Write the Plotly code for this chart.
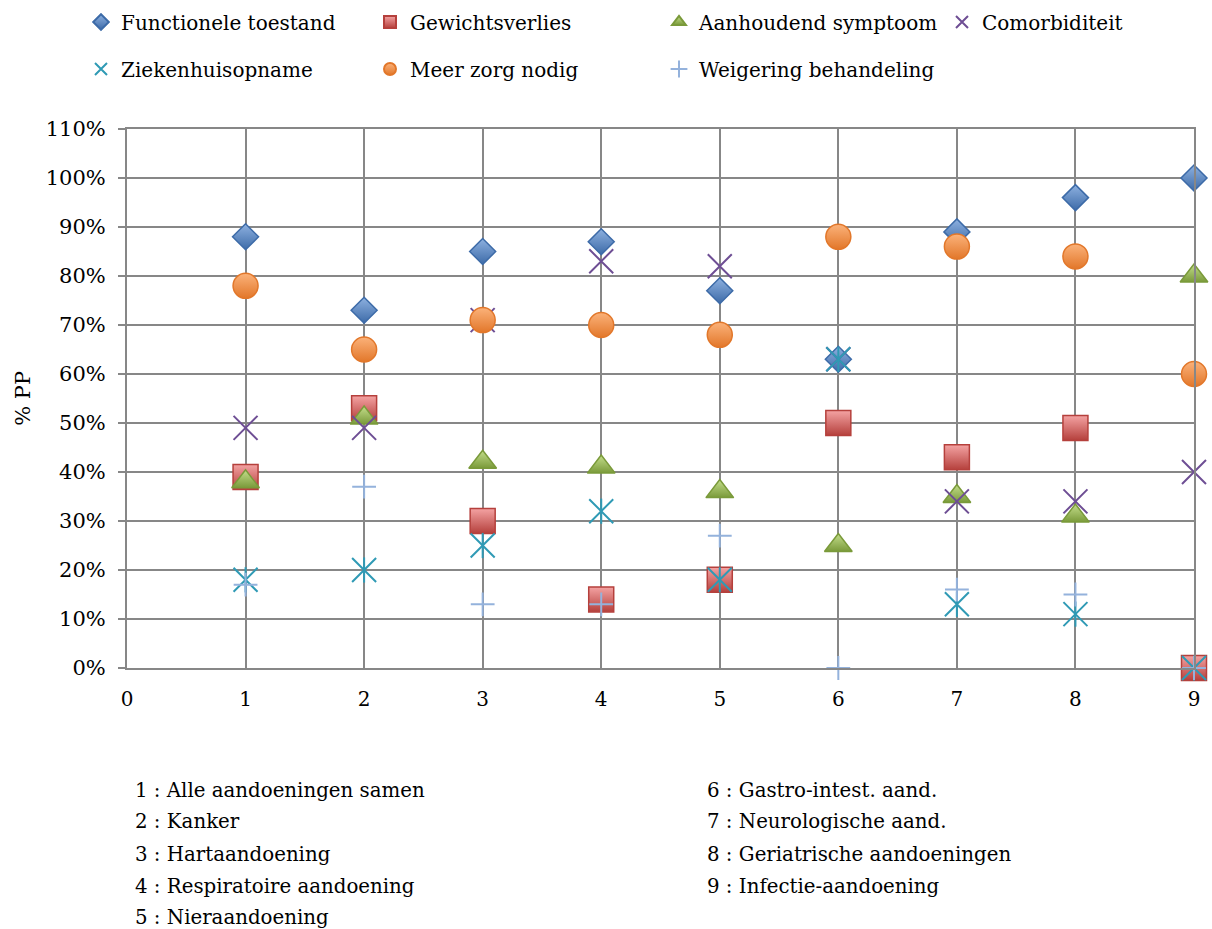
import plotly.graph_objects as go

# Category index on the x axis and the condition each number stands for
categories = [1, 2, 3, 4, 5, 6, 7, 8, 9]
category_names = [
    "Alle aandoeningen samen",
    "Kanker",
    "Hartaandoening",
    "Respiratoire aandoening",
    "Nieraandoening",
    "Gastro-intest. aand.",
    "Neurologische aand.",
    "Geriatrische aandoeningen",
    "Infectie-aandoening",
]

# Percentage of patients (% PP) per indicator
functionele_toestand = [88, 73, 85, 87, 77, 63, 89, 96, 100]
gewichtsverlies = [39, 53, 30, 14, 18, 50, 43, 49, 0]
aanhoudend_symptoom = [38, 51, 42, 41, 36, 25, 35, 31, 80]
comorbiditeit = [49, 49, 71, 83, 82, 63, 34, 34, 40]
ziekenhuisopname = [18, 20, 25, 32, 18, 63, 13, 11, 0]
meer_zorg_nodig = [78, 65, 71, 70, 68, 88, 86, 84, 60]
weigering_behandeling = [17, 37, 13, 13, 27, 0, 16, 15, 0]

y_ticks = list(range(0, 111, 10))
x_ticks = list(range(0, 10))

FONT = "DejaVu Serif"
GRID = "#878787"
W, H = 1212, 929

fig = go.Figure()


def filled(name, values, symbol, size, light, dark, legend):
    fig.add_trace(go.Scatter(
        x=categories, y=values, name=name, mode="markers", legend=legend,
        cliponaxis=False,
        marker=dict(symbol=symbol, size=size, color=light,
                    gradient=dict(type="vertical", color=dark),
                    line=dict(color=dark, width=1.5)),
    ))


def stroked(name, values, symbol, size, color, legend, showlegend=True, group=None):
    fig.add_trace(go.Scatter(
        x=categories, y=values, name=name, mode="markers", legend=legend,
        cliponaxis=False, showlegend=showlegend, legendgroup=group,
        marker=dict(symbol=symbol, size=size, color=color,
                    line=dict(color=color, width=2)),
    ))


filled("Functionele toestand", functionele_toestand, "diamond", 20,
       "#8eb1e0", "#3d6ba8", "legend")
filled("Gewichtsverlies", gewichtsverlies, "square", 25,
       "#f4a3a3", "#b5403c", "legend")
filled("Aanhoudend symptoom", aanhoudend_symptoom, "triangle-up", 24,
       "#c4de8c", "#7a9a3a", "legend")
stroked("Comorbiditeit", comorbiditeit, "x-thin-open", 24, "#6e4e94", "legend3")
stroked("Ziekenhuisopname", ziekenhuisopname, "x-thin-open", 24, "#2f9ab5",
        "legend2", group="zh")
stroked("Ziekenhuisopname", ziekenhuisopname, "line-ns-open", 18, "#2f9ab5",
        "legend2", showlegend=False, group="zh")
filled("Meer zorg nodig", meer_zorg_nodig, "circle", 25,
       "#fbb27a", "#e2772a", "legend2")
stroked("Weigering behandeling", weigering_behandeling, "cross-thin-open", 17,
        "#94b2dc", "legend2")

# Numbered key of the conditions below the chart
left_col = 133
right_col = 707
row_y = [790, 822, 854, 886, 918]
plot_left, plot_right, plot_top, plot_bottom = 127, 1197, 129, 668
pw = plot_right - plot_left
ph = plot_bottom - plot_top

annotations = []
for i, (num, label) in enumerate(zip(categories, category_names)):
    col = left_col if i < 5 else right_col
    row = row_y[i] if i < 5 else row_y[i - 5]
    annotations.append(dict(
        text=f"{num} : {label}", xref="paper", yref="paper",
        x=(col - plot_left) / pw, y=(plot_bottom - row) / ph,
        xanchor="left", yanchor="middle", showarrow=False,
        font=dict(family=FONT, size=19.8, color="black"),
    ))

annotations.append(dict(
    text="% PP", xref="paper", yref="paper",
    x=(22 - plot_left) / pw, y=0.5, textangle=-90,
    xanchor="center", yanchor="middle", showarrow=False,
    font=dict(family=FONT, size=21, color="black"),
))

legend_style = dict(
    orientation="h", xanchor="left", yanchor="middle",
    xref="container", yref="container",
    entrywidth=244, entrywidthmode="pixels", itemsizing="constant",
    font=dict(family=FONT, size=20, color="black"),
    bgcolor="rgba(0,0,0,0)",
)

fig.update_layout(
    width=W, height=H,
    margin=dict(l=plot_left, r=W - plot_right, t=plot_top, b=H - plot_bottom),
    paper_bgcolor="white", plot_bgcolor="white",
    font=dict(family=FONT, size=20, color="black"),
    legend=dict(legend_style, x=81 / W, y=1 - 22 / H),
    legend3=dict(legend_style, x=942 / W, y=1 - 22 / H),
    legend2=dict(legend_style, x=81 / W, y=1 - 69 / H),
    annotations=annotations,
    xaxis=dict(
        range=[0, 9], tickvals=x_ticks, ticktext=[str(v) for v in x_ticks],
        showgrid=True, gridcolor=GRID, gridwidth=2,
        showline=True, linecolor=GRID, linewidth=2, mirror=True,
        ticks="", ticklabelstandoff=12, zeroline=False,
        tickfont=dict(family=FONT, size=20),
    ),
    yaxis=dict(
        range=[0, 110], tickvals=y_ticks, ticktext=[f"{v}%" for v in y_ticks],
        showgrid=True, gridcolor=GRID, gridwidth=2,
        showline=True, linecolor=GRID, linewidth=2, mirror=True,
        ticks="outside", ticklen=7, tickcolor=GRID, tickwidth=2,
        ticklabelstandoff=8, zeroline=False,
        tickfont=dict(family=FONT, size=21),
    ),
)

fig.write_html("out.html")
